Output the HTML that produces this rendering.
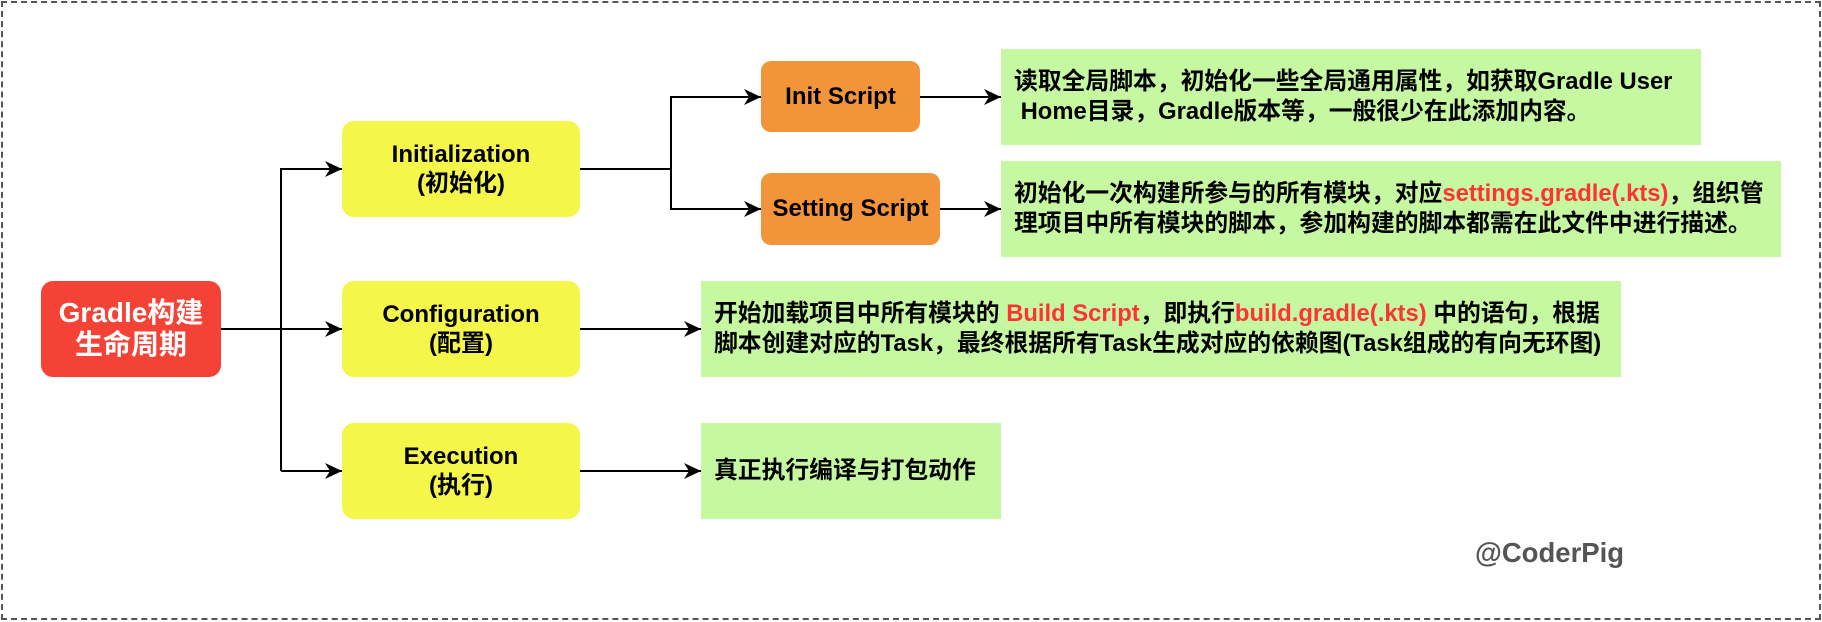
<!DOCTYPE html>
<html><head><meta charset="utf-8"><style>
*{margin:0;padding:0;box-sizing:border-box}
body{width:1822px;height:622px;background:#fff;position:relative;overflow:hidden;font-family:"Liberation Sans","Noto Sans CJK SC",sans-serif;font-weight:bold}
.b{position:absolute;display:flex;align-items:center;justify-content:center;text-align:center;color:#000}
.t{display:inline-block;white-space:nowrap}
.y{background:#f5f64a;border-radius:12px;font-size:24px;line-height:29px}
.o{background:#f29439;border-radius:10px;font-size:24px}
.g{position:absolute;background:#c6f7a1;display:flex;align-items:center;font-size:23.8px;line-height:30px;padding-left:13px;color:#000;white-space:nowrap}
.r{color:#ff3333}
</style></head><body>
<div style="position:absolute;left:1px;top:1px;width:1820px;height:619px;border:2px dashed #555"></div>
<svg width="1822" height="622" style="position:absolute;left:0;top:0">
<defs><marker id="a" markerWidth="17" markerHeight="16" refX="17" refY="8" orient="auto" markerUnits="userSpaceOnUse"><path d="M0,0 L17,8 L0,16 L5,8 z" fill="#000"/></marker></defs>
<g stroke="#000" stroke-width="2" fill="none">
<path d="M221,329 H342" marker-end="url(#a)"/>
<path d="M281,471 V169 H342" marker-end="url(#a)"/>
<path d="M281,471 H342" marker-end="url(#a)"/>
<path d="M580,169 H671 V97 H761" marker-end="url(#a)"/>
<path d="M671,169 V209 H761" marker-end="url(#a)"/>
<path d="M920,97 H1001" marker-end="url(#a)"/>
<path d="M940,209 H1001" marker-end="url(#a)"/>
<path d="M580,329 H701" marker-end="url(#a)"/>
<path d="M580,471 H701" marker-end="url(#a)"/>
</g></svg>
<div class="b" style="left:41px;top:281px;width:180px;height:96px;background:#f44336;border-radius:12px;color:#fff;font-size:28px;line-height:32px"><span class="t">Gradle构建<br>生命周期</span></div>
<div class="b y" style="left:342px;top:121px;width:238px;height:96px"><span class="t">Initialization<br>(初始化)</span></div>
<div class="b y" style="left:342px;top:281px;width:238px;height:96px"><span class="t">Configuration<br>(配置)</span></div>
<div class="b y" style="left:342px;top:423px;width:238px;height:96px"><span class="t">Execution<br>(执行)</span></div>
<div class="b o" style="left:761px;top:61px;width:159px;height:71px"><span class="t">Init Script</span></div>
<div class="b o" style="left:761px;top:173px;width:179px;height:72px"><span class="t">Setting Script</span></div>
<div class="g" style="left:1001px;top:49px;width:700px;height:96px"><span class="t">读取全局脚本，初始化一些全局通用属性，如获取Gradle User<br>&nbsp;Home目录，Gradle版本等，一般很少在此添加内容。</span></div>
<div class="g" style="left:1001px;top:161px;width:780px;height:96px"><span class="t">初始化一次构建所参与的所有模块，对应<span class="r">settings.gradle(.kts)</span>，组织管<br>理项目中所有模块的脚本，参加构建的脚本都需在此文件中进行描述。</span></div>
<div class="g" style="left:701px;top:281px;width:920px;height:96px"><span class="t">开始加载项目中所有模块的 <span class="r">Build Script</span>，即执行<span class="r">build.gradle(.kts)</span> 中的语句，根据<br>脚本创建对应的Task，最终根据所有Task生成对应的依赖图(Task组成的有向无环图)</span></div>
<div class="g" style="left:701px;top:423px;width:300px;height:96px"><span class="t">真正执行编译与打包动作</span></div>
<div style="position:absolute;left:1475px;top:536px;font-size:27.5px;line-height:34px;color:#555"><span class="t">@CoderPig</span></div>
</body></html>
